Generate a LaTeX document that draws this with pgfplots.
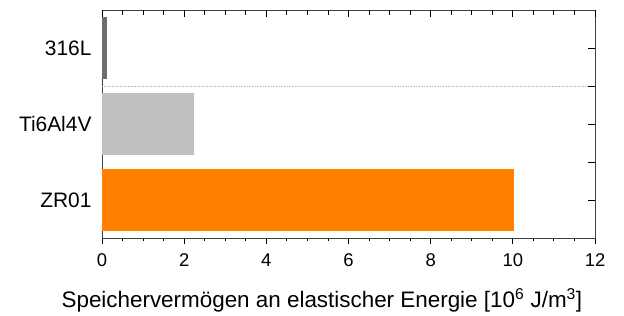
\documentclass[border=0pt]{standalone}
\usepackage{fontspec}
\setmainfont{Liberation Sans}
\usepackage{pgfplots}
\pgfplotsset{compat=1.18}
\definecolor{barA}{HTML}{6E6E6E}
\definecolor{barB}{HTML}{C0C0C0}
\definecolor{barC}{HTML}{FF8000}
\begin{document}
\begin{tikzpicture}
\pgfplotsset{
  common/.style={
    scale only axis, width=493bp, height=228bp,
    at={(0,0)}, anchor=south west,
    xmin=0, xmax=12, ymin=-0.5, ymax=2.5,
    xtick={0,2,...,12}, minor x tick num=3,
    axis line style={black!75, line width=0.8pt},
    tick style={black, line width=0.9pt},
    /pgf/number format/assume math mode=true,
    tick label style={font=\fontsize{18.5}{20}\selectfont},
  }
}
\begin{axis}[common,
  xbar, bar width=62bp, bar shift=0pt,
  xtick pos=left, ytick pos=left, tick align=outside,
  major tick length=6bp, minor tick length=3bp,
  ytick={0,1,2}, yticklabels={ZR01,Ti6Al4V,316L},
  y tick style={draw=none},
  extra y ticks={0.5,1.5}, extra y tick labels={},
  extra y tick style={tick align=center, major tick length=7bp, tick style={draw=black, line width=0.9pt}},
  yticklabel style={xshift=-1bp, font=\fontsize{21}{23}\selectfont},
  xticklabel style={yshift=-6bp},
  xlabel={Speichervermögen an elastischer Energie [10\textsuperscript{6} J/m\textsuperscript{3}]},
  xlabel style={font=\fontsize{22.5}{24}\selectfont, at={(axis description cs:0.446,0)}, anchor=base, yshift=-69bp},
]
\draw[densely dotted, black!25, line width=0.6pt] (axis cs:0,1.5) -- (axis cs:12,1.5);
\addplot[draw=none, fill=barC] coordinates {(10.04,0)};
\addplot[draw=none, fill=barB] coordinates {(2.24,1)};
\addplot[draw=none, fill=barA] coordinates {(0.13,2)};
\end{axis}
\begin{axis}[common,
  xtick pos=right, ytick pos=right, tick align=inside,
  major tick length=7bp, minor tick length=5bp,
  ytick={0,0.5,1,1.5,2},
  xticklabels={}, yticklabels={},
  axis line style={draw=none},
]
\end{axis}
\path (-102bp,-78bp) rectangle (522bp,238bp);
\end{tikzpicture}
\end{document}
